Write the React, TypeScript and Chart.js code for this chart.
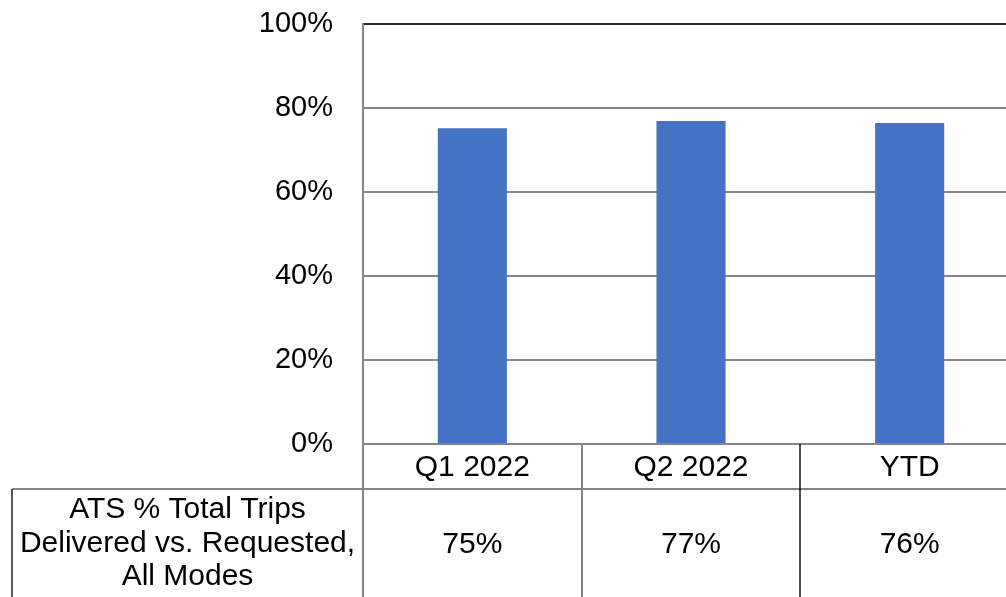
import React, { useEffect, useRef } from "react";
import { Chart, registerables } from "chart.js";

Chart.register(...registerables);

const categories = ["Q1 2022", "Q2 2022", "YTD"];
const values = [75.2, 76.9, 76.4];
const tableValues = ["75%", "77%", "76%"];
const rowHeaderLines = ["ATS % Total Trips", "Delivered vs. Requested,", "All Modes"];
const yMax = 100;
const yStep = 20;

const FONT = "'Liberation Sans', Arial, Helvetica, sans-serif";
const GRID = "#858585";
const DARK = "#2b2b2b";

const tablePlugin = {
  id: "dataTable",
  afterDraw(chart: any) {
    const { ctx, chartArea, scales } = chart;
    const xs = scales.x;
    const left = chartArea.left;
    const right = chartArea.right;
    const bottom = chartArea.bottom;
    const tableLeft = 12;
    const rowTop = bottom + 45;
    const tableBottom = chart.height;
    const n = categories.length;
    ctx.save();

    ctx.strokeStyle = GRID;
    ctx.lineWidth = 2;
    ctx.beginPath();
    ctx.moveTo(tableLeft, rowTop);
    ctx.lineTo(right, rowTop);
    ctx.stroke();

    ctx.beginPath();
    ctx.moveTo(left, chartArea.top);
    ctx.lineTo(left, tableBottom);
    ctx.stroke();

    const half = (xs.getPixelForValue(1) - xs.getPixelForValue(0)) / 2;
    for (let i = 1; i < n; i++) {
      const bx = Math.round(xs.getPixelForValue(i) - half);
      ctx.strokeStyle = i === 1 ? GRID : "#111";
      ctx.lineWidth = i === 1 ? 2 : 1.5;
      ctx.beginPath();
      ctx.moveTo(bx, bottom);
      ctx.lineTo(bx, tableBottom);
      ctx.stroke();
    }

    ctx.strokeStyle = "#222";
    ctx.lineWidth = 1.5;
    ctx.beginPath();
    ctx.moveTo(tableLeft, rowTop);
    ctx.lineTo(tableLeft, tableBottom);
    ctx.stroke();

    ctx.fillStyle = "#000";
    ctx.font = `30px ${FONT}`;
    ctx.textAlign = "center";
    ctx.textBaseline = "alphabetic";
    for (let i = 0; i < n; i++) {
      const cx = xs.getPixelForValue(i);
      ctx.fillText(categories[i], cx, bottom + 32);
      ctx.fillText(tableValues[i], cx, bottom + 109);
    }
    const hx = (tableLeft + left) / 2;
    const baselines = [bottom + 74, bottom + 108, bottom + 141];
    rowHeaderLines.forEach((t, i) => ctx.fillText(t, hx, baselines[i]));
    ctx.restore();
  },
};

export default function App() {
  const ref = useRef<HTMLCanvasElement>(null);
  useEffect(() => {
    if (!ref.current) return;
    const chart = new Chart(ref.current, {
      type: "bar",
      data: {
        labels: categories,
        datasets: [
          {
            label: "ATS % Total Trips Delivered vs. Requested, All Modes",
            data: values,
            backgroundColor: "#4472C4",
            borderWidth: 0,
            barPercentage: 1,
            categoryPercentage: 0.316,
          },
        ],
      },
      options: {
        responsive: false,
        animation: false,
        devicePixelRatio: 1,
        layout: { padding: { top: 24, left: 0, right: 0, bottom: 0 } },
        plugins: { legend: { display: false }, tooltip: { enabled: false } },
        scales: {
          x: {
            grid: { display: false },
            border: { display: true, color: GRID, width: 2 },
            ticks: { display: false },
            afterFit: (s: any) => {
              s.height = 153;
            },
          },
          y: {
            min: 0,
            max: yMax,
            afterFit: (s: any) => {
              s.width = 363;
              s.paddingTop = 0;
              s.paddingBottom = 0;
            },
            border: { display: true, color: GRID, width: 2 },
            grid: {
              drawTicks: false,
              lineWidth: 2,
              color: (c: any) => (c.tick && c.tick.value === yMax ? DARK : GRID),
            },
            ticks: {
              stepSize: yStep,
              padding: 30,
              color: "#000",
              font: { family: FONT, size: 29 },
              callback: (v: any) => `${v}%`,
            },
          },
        },
      },
      plugins: [tablePlugin],
    });
    return () => chart.destroy();
  }, []);
  return (
    <div
      style={{
        position: "absolute",
        left: 0,
        top: 0,
        width: 1006,
        height: 597,
        overflow: "hidden",
        background: "#fff",
      }}
    >
      <canvas ref={ref} width={1019} height={597} style={{ display: "block" }} />
    </div>
  );
}
